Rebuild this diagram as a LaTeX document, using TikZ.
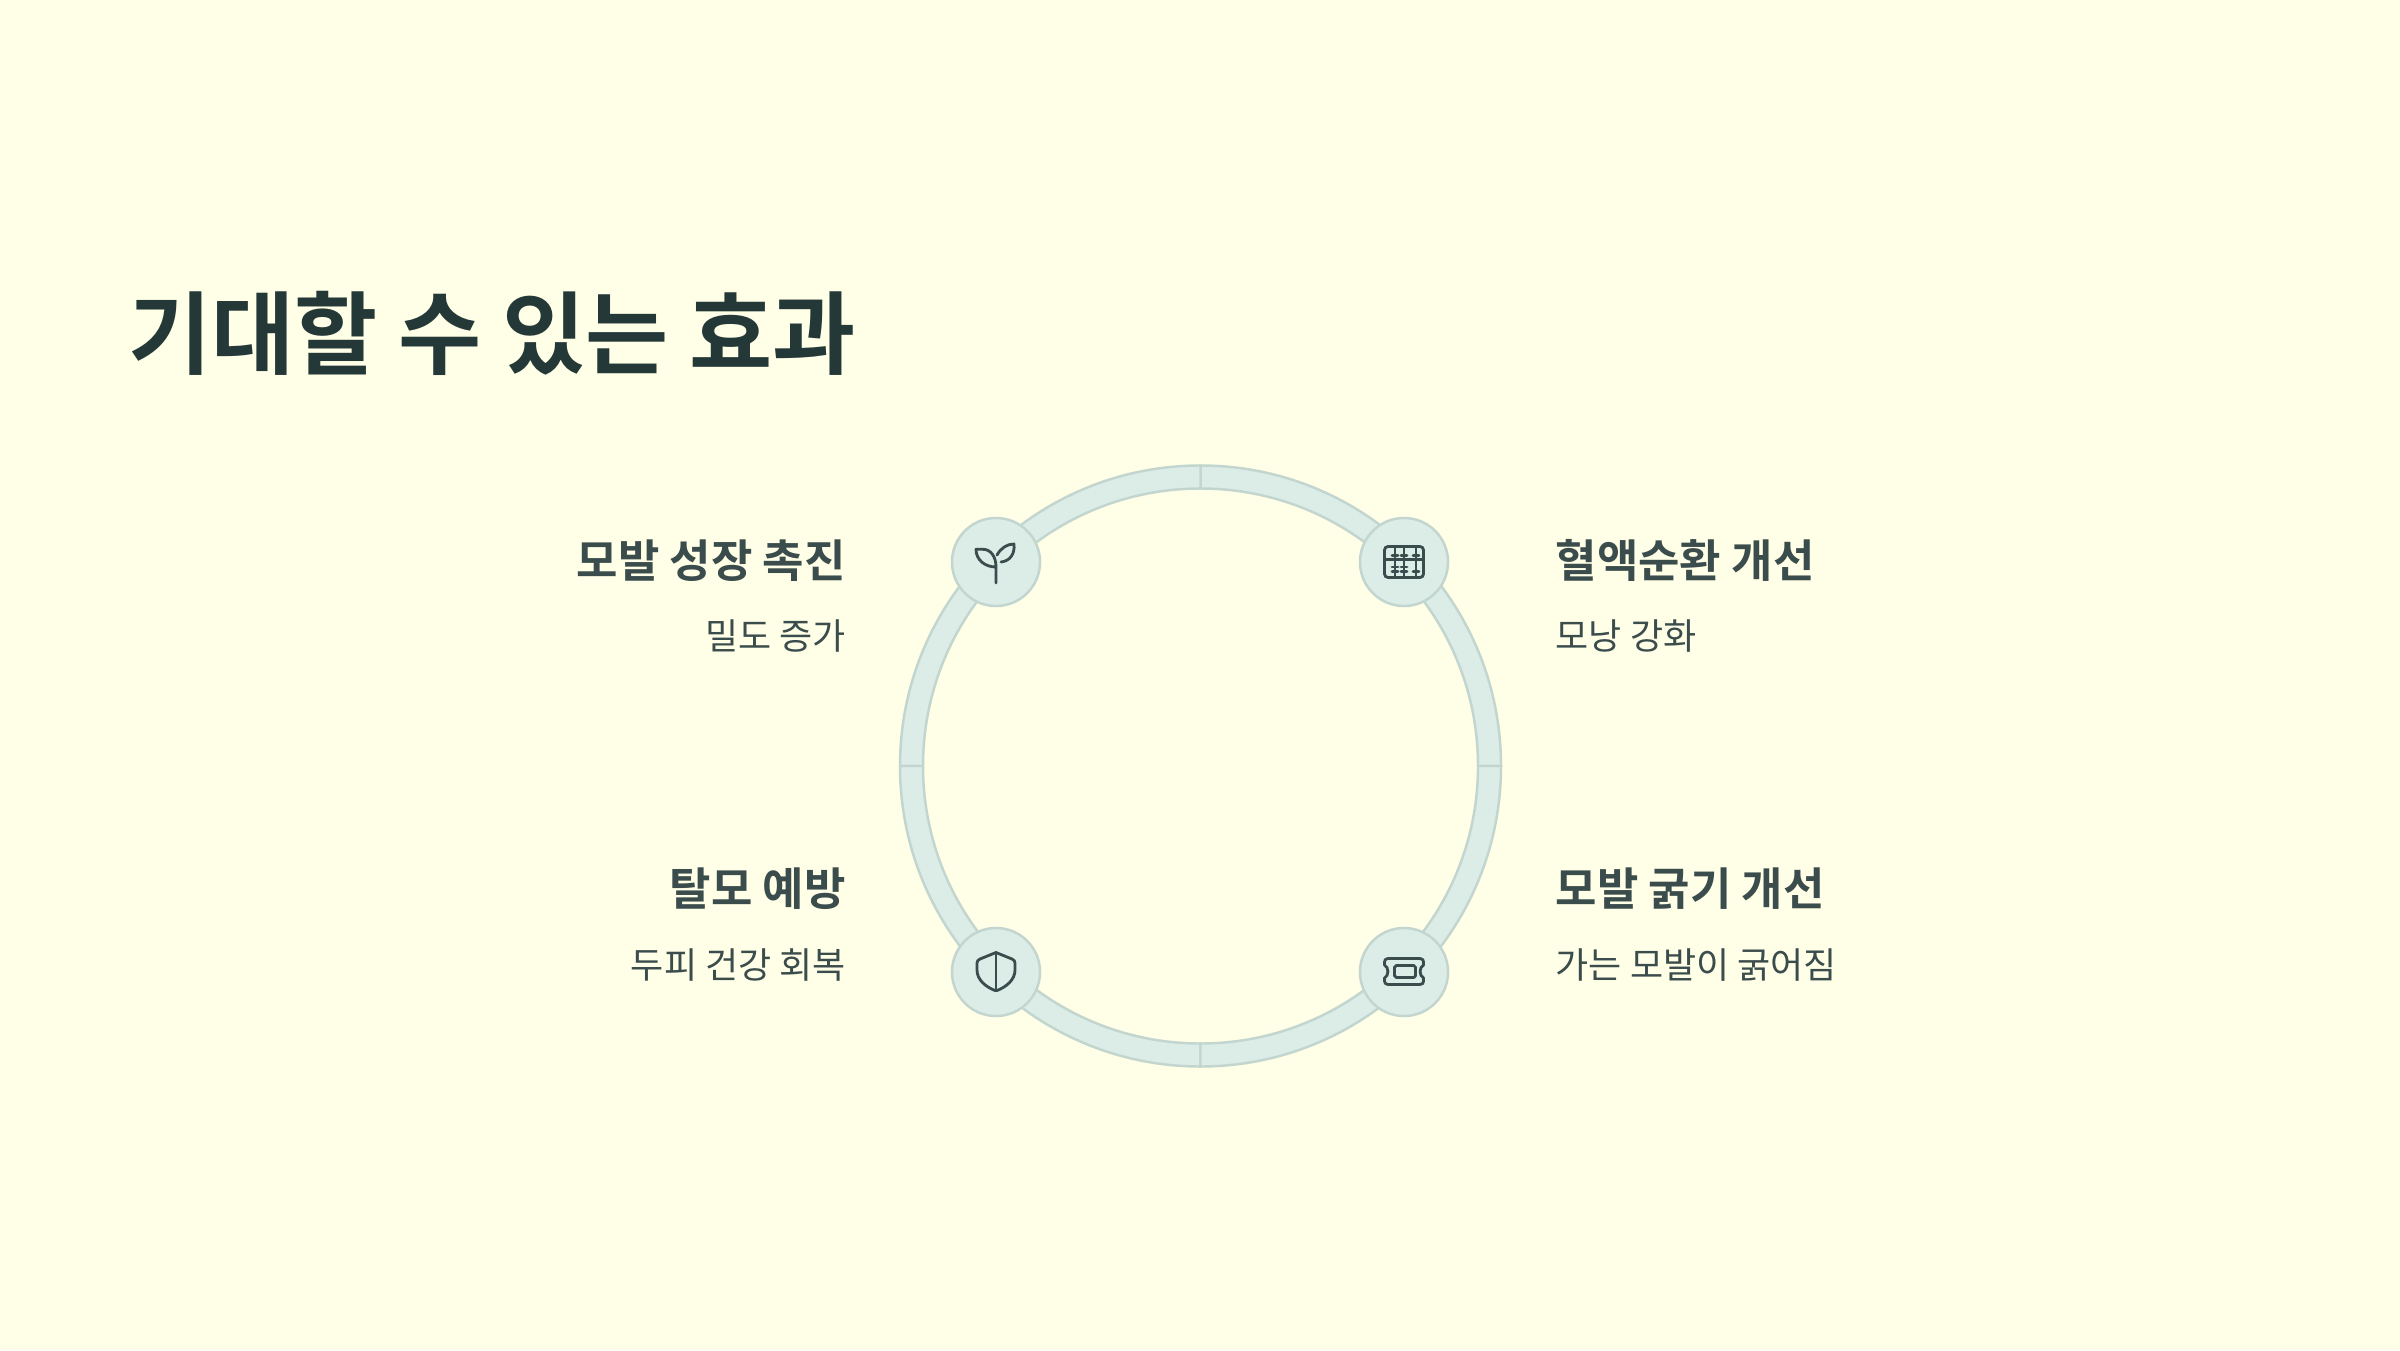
\documentclass[tikz,border=0pt]{standalone}
\usepackage{fontspec}
\setmainfont{Noto Sans CJK KR}
\newfontfamily\krbold{Noto Sans CJK KR Bold}
\definecolor{mcream}{HTML}{FFFEE6}
\definecolor{mmint}{HTML}{DCEDE7}
\definecolor{medge}{HTML}{C3D5CF}
\definecolor{mink}{HTML}{243838}
\definecolor{mtext}{HTML}{3B4C4C}
\tikzset{badge/.style = {circle, draw=medge, fill=mmint, line width = 0.7pt, minimum size = 0.88cm, inner sep = 0}}
\tikzset{ringseg/.style = {draw=medge, fill=mmint, line width = 0.7pt}}
\tikzset{glyph/.style = {draw=mtext, line width = 0.8pt, line cap=round, line join=round}}
\tikzset{headl/.style = {font=\fontsize{12.8pt}{16pt}\krbold, text=mtext, inner sep = 0}}
\tikzset{subl/.style = {font=\fontsize{10.24pt}{13pt}\selectfont, text=mtext, inner sep = 0}}
\begin{document}
\begin{tikzpicture}[x=0.01cm, y=0.01cm]
  \useasboundingbox (0, 0) rectangle (2400, 1350);
  \fill [mcream] (0, 0) rectangle (2400, 1350);

  \node [anchor=base west, inner sep = 0, text=mink, font=\fontsize{25.7pt}{32pt}\krbold] (title) at (128, 983) {기대할 수 있는 효과};

  \coordinate (hub) at (1200.5, 584);
  \foreach \a in {0, 90, 180, 270} {
    \draw [ringseg, shift={(hub)}] (\a:277.5) arc (\a:\a+90:277.5) -- (\a+90:300.5) arc (\a+90:\a:300.5) -- cycle;
  }

  \node [badge] (seed) at (996, 788) {};
  \node [badge] (beads) at (1404, 788) {};
  \node [badge] (guard) at (996, 378) {};
  \node [badge] (pass) at (1404, 378) {};

  \begin{scope}[shift={(seed)}]
    \draw [glyph] (0, -21) -- (0, -5) .. controls (0, 5) and (-5, 12.7) .. (-13, 12.7) -- (-20, 12.7) .. controls (-20, 2) and (-11, -5) .. (0, -5);
    \draw [glyph] (1, 7) .. controls (5, 14) and (11, 18) .. (18, 18) .. controls (19, 8) and (14, 1) .. (5, 0);
  \end{scope}

  \begin{scope}[shift={(beads)}]
    \draw [glyph, rounded corners=1pt] (-19.5, -15.5) rectangle (19.5, 15.5);
    \draw [glyph] (-19.5, 2.5) -- (19.5, 2.5);
    \foreach \x in {-9, 0, 12} {
      \draw [glyph] (\x, -15.5) -- (\x, 15.5);
      \draw [glyph] (\x-3, 6.5) -- (\x+3, 6.5);
      \draw [glyph] (\x-3, -9.5) -- (\x+3, -9.5);
    }
    \foreach \x in {-9, 0} {
      \draw [glyph] (\x-3, -5) -- (\x+3, -5);
    }
  \end{scope}

  \begin{scope}[shift={(guard)}]
    \draw [glyph] (0, 19.5) -- (0, -18.5);
    \draw [glyph] (0, 19.5) -- (-16, 13) .. controls (-18, 12) and (-19, 11) .. (-19, 9) -- (-19, 2) .. controls (-19, -8) and (-10, -15) .. (-1, -18.5) -- (1, -18.5) .. controls (10, -15) and (19, -8) .. (19, 2) -- (19, 9) .. controls (19, 11) and (18, 12) .. (16, 13) -- cycle;
  \end{scope}

  \begin{scope}[shift={(pass)}]
    \draw [glyph] (-16, 13.5) -- (16, 13.5) .. controls (18.5, 13.5) and (19.5, 12) .. (19.5, 10) -- (19.5, 7) .. controls (15, 5) and (15, -4) .. (19.5, -6) -- (19.5, -9) .. controls (19.5, -11) and (18.5, -12.5) .. (16, -12.5) -- (-16, -12.5) .. controls (-18.5, -12.5) and (-19.5, -11) .. (-19.5, -9) -- (-19.5, -6) .. controls (-15, -4) and (-15, 5) .. (-19.5, 7) -- (-19.5, 10) .. controls (-19.5, 12) and (-18.5, 13.5) .. (-16, 13.5) -- cycle;
    \draw [glyph, rounded corners=0.5pt] (-9.5, -5.5) rectangle (11.5, 6.5);
  \end{scope}

  \node [headl, anchor=base east] (seedhead) at (846.5, 773) {모발 성장 촉진};
  \node [subl, anchor=base east] (seedsub) at (846.5, 701) {밀도 증가};
  \node [headl, anchor=base west] (beadshead) at (1555, 773) {혈액순환 개선};
  \node [subl, anchor=base west] (beadssub) at (1555, 701) {모낭 강화};
  \node [headl, anchor=base east] (guardhead) at (846.5, 445) {탈모 예방};
  \node [subl, anchor=base east] (guardsub) at (846.5, 372) {두피 건강 회복};
  \node [headl, anchor=base west] (passhead) at (1555, 445) {모발 굵기 개선};
  \node [subl, anchor=base west] (passsub) at (1555, 372) {가는 모발이 굵어짐};
\end{tikzpicture}
\end{document}
